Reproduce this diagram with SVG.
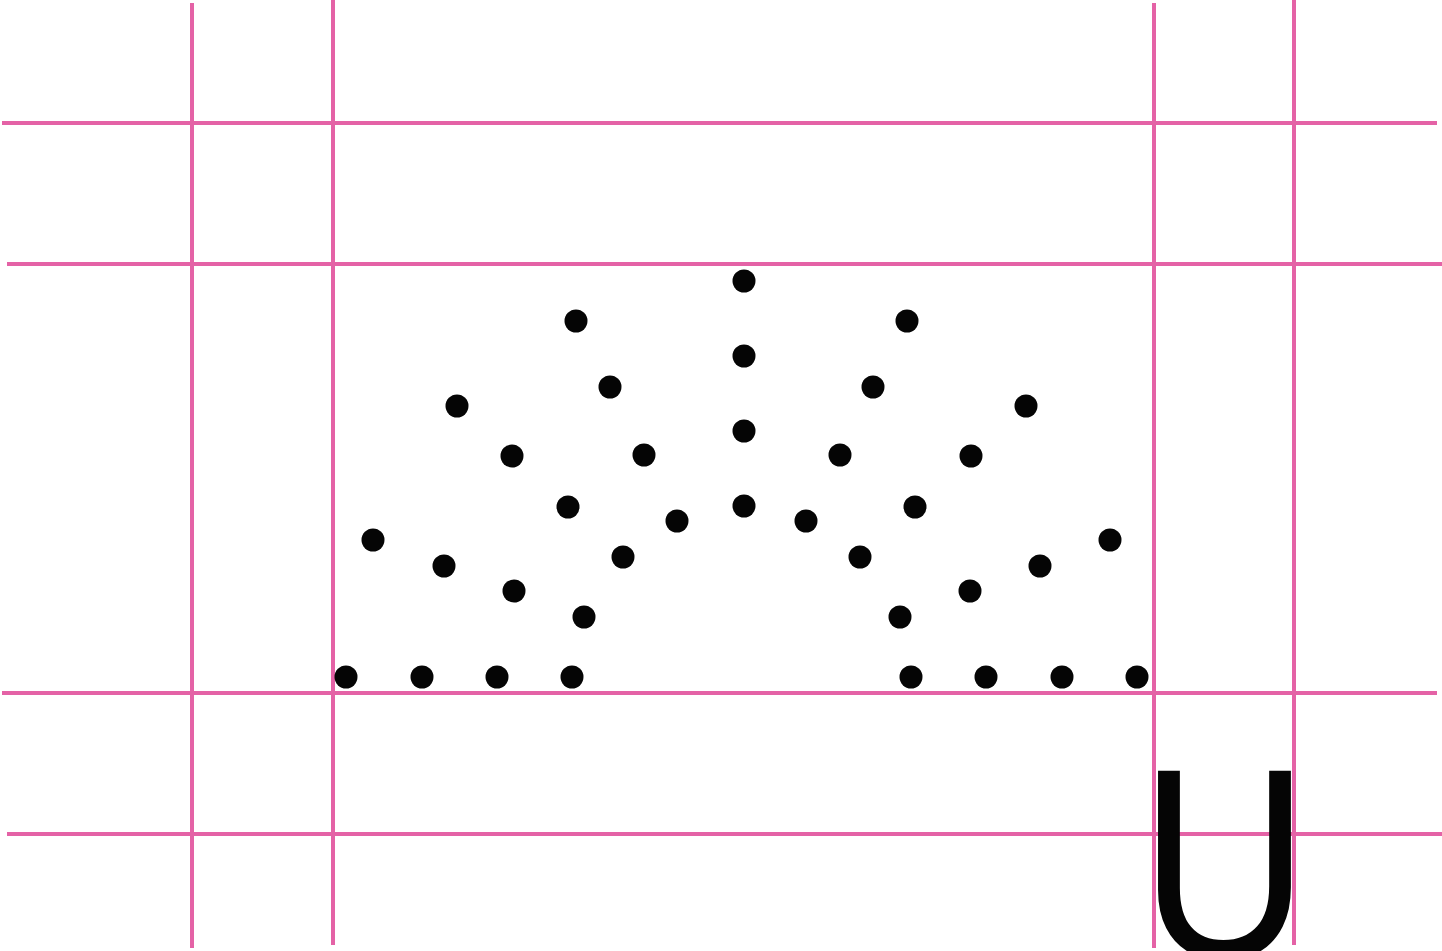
<svg xmlns="http://www.w3.org/2000/svg" width="1442" height="951" viewBox="0 0 1442 951">
<style>
.g{stroke:#E462A6;stroke-width:4;fill:none}
.d{fill:#050505}
.t{font-family:"Liberation Sans",Arial,sans-serif;font-size:272px;fill:#050505}
</style>
<rect width="1442" height="951" fill="#fff"/>
<g id="grid">
<line class="g" x1="192" y1="3" x2="192" y2="948"/>
<line class="g" x1="333" y1="0" x2="333" y2="945"/>
<line class="g" x1="1154" y1="3" x2="1154" y2="948"/>
<line class="g" x1="1294" y1="0" x2="1294" y2="945"/>
<line class="g" x1="2" y1="123" x2="1437" y2="123"/>
<line class="g" x1="7" y1="264" x2="1442" y2="264"/>
<line class="g" x1="2" y1="693" x2="1437" y2="693"/>
<line class="g" x1="7" y1="834" x2="1442" y2="834"/>
</g>
<g id="dots" class="d">
<circle cx="346" cy="677" r="11.5"/><circle cx="422" cy="677" r="11.5"/><circle cx="497" cy="677" r="11.5"/><circle cx="572" cy="677" r="11.5"/>
<circle cx="911" cy="677" r="11.5"/><circle cx="986" cy="677" r="11.5"/><circle cx="1062" cy="677" r="11.5"/><circle cx="1137" cy="677" r="11.5"/>
<circle cx="744" cy="281" r="11.5"/><circle cx="744" cy="356" r="11.5"/><circle cx="744" cy="431" r="11.5"/><circle cx="744" cy="506" r="11.5"/>
<circle cx="576" cy="321" r="11.5"/><circle cx="610" cy="387" r="11.5"/><circle cx="644" cy="455" r="11.5"/><circle cx="677" cy="521" r="11.5"/>
<circle cx="907" cy="321" r="11.5"/><circle cx="873" cy="387" r="11.5"/><circle cx="840" cy="455" r="11.5"/><circle cx="806" cy="521" r="11.5"/>
<circle cx="457" cy="406" r="11.5"/><circle cx="512" cy="456" r="11.5"/><circle cx="568" cy="507" r="11.5"/><circle cx="623" cy="557" r="11.5"/>
<circle cx="1026" cy="406" r="11.5"/><circle cx="971" cy="456" r="11.5"/><circle cx="915" cy="507" r="11.5"/><circle cx="860" cy="557" r="11.5"/>
<circle cx="373" cy="540" r="11.5"/><circle cx="444" cy="566" r="11.5"/><circle cx="514" cy="591" r="11.5"/><circle cx="584" cy="617" r="11.5"/>
<circle cx="1110" cy="540" r="11.5"/><circle cx="1040" cy="566" r="11.5"/><circle cx="970" cy="591" r="11.5"/><circle cx="900" cy="617" r="11.5"/>
</g>
<g id="letter">
<text class="t" transform="translate(1140,958) scale(0.86,1)">U</text>
</g>
</svg>
